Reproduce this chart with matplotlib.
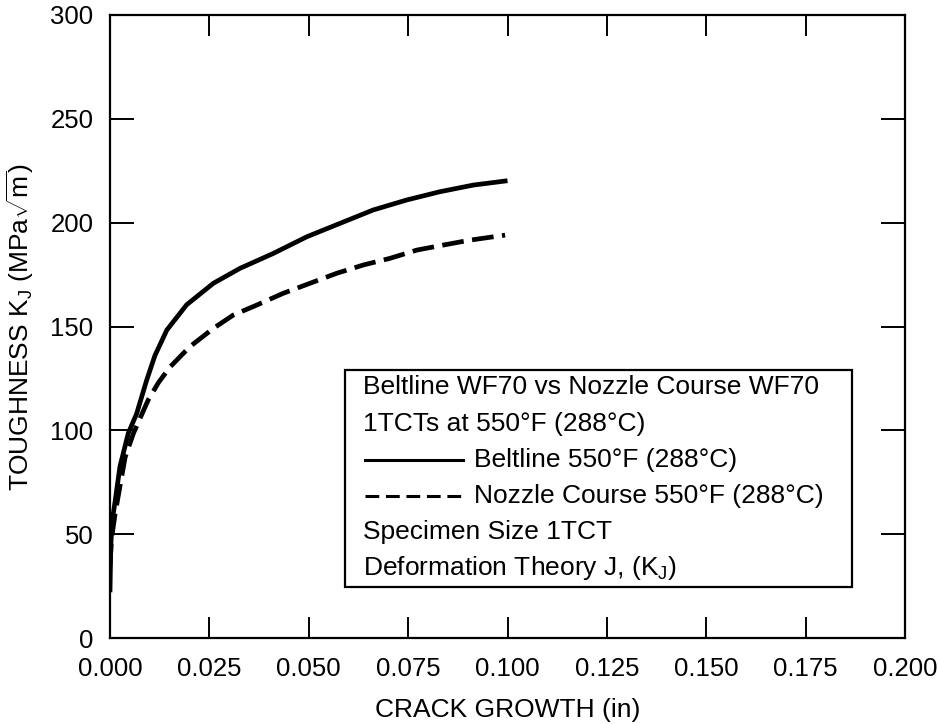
import matplotlib
matplotlib.use("Agg")
import matplotlib.pyplot as plt
from matplotlib.patches import Rectangle

plt.rcParams['font.family'] = ['Liberation Sans', 'DejaVu Sans']
plt.rcParams['mathtext.fontset'] = 'custom'
plt.rcParams['mathtext.rm'] = 'Liberation Sans'
plt.rcParams['mathtext.it'] = 'Liberation Sans:italic'
plt.rcParams['mathtext.bf'] = 'Liberation Sans:bold'

# Data
belt_x = [0.0, 0.0002, 0.0006, 0.0013, 0.0025, 0.0046, 0.0067, 0.0092, 0.0113,
          0.0143, 0.0193, 0.026, 0.0327, 0.0411, 0.0495, 0.0579, 0.0662,
          0.0746, 0.083, 0.0914, 0.1]
belt_y = [22, 45, 57, 66, 82.5, 98.6, 108, 124, 136,
          148.3, 160.5, 170.8, 178, 185.2, 193.2, 199.7, 206.1,
          210.9, 214.9, 218.1, 220.2]

nozzle_x = [0.0, 0.0004, 0.0013, 0.0038, 0.0059, 0.0096, 0.0122, 0.0151, 0.0201,
            0.026, 0.031, 0.0369, 0.0436, 0.0503, 0.057, 0.0637, 0.0704,
            0.0772, 0.0838, 0.0906, 0.0994]
nozzle_y = [35, 48, 60, 87, 98.6, 114.6, 123, 130.5, 140.3,
            149.1, 155.5, 160.3, 166, 170.8, 175.6, 179.6, 182.8,
            186.8, 189.2, 191.6, 194]

x_ticks = [0.0, 0.025, 0.05, 0.075, 0.1, 0.125, 0.15, 0.175, 0.2]
x_ticklabels = ['0.000', '0.025', '0.050', '0.075', '0.100', '0.125', '0.150', '0.175', '0.200']
y_ticks = [0, 50, 100, 150, 200, 250, 300]

legend_lines = ['Beltline WF70 vs Nozzle Course WF70',
                '1TCTs at 550°F (288°C)',
                'Beltline 550°F (288°C)',
                'Nozzle Course 550°F (288°C)',
                'Specimen Size 1TCT',
                r'Deformation Theory J, (K$_\mathregular{J}$)']

fig = plt.figure(figsize=(9.38, 7.24), dpi=100)
ax = fig.add_axes([110/938, 86/724, 795/938, 623/724])

lw = 3.4
ax.plot(belt_x, belt_y, color='black', lw=lw, solid_capstyle='butt',
        solid_joinstyle='round')
ax.plot(nozzle_x, nozzle_y, color='black', lw=lw, dashes=(4.6, 1.8),
        dash_joinstyle='round')

ax.set_xlim(0, 0.2)
ax.set_ylim(0, 300)
ax.set_xticks(x_ticks)
ax.set_xticklabels(x_ticklabels)
ax.set_yticks(y_ticks)

for s in ax.spines.values():
    s.set_linewidth(1.6)
ax.tick_params(axis='both', direction='in', top=True, right=True, width=1.4,
               labelsize=18.5)
ax.tick_params(axis='x', length=15, pad=14)
ax.tick_params(axis='y', length=17, pad=12)

ax.set_xlabel('CRACK GROWTH (in)', fontsize=19, labelpad=12)
ax.set_ylabel(r'TOUGHNESS K$_\mathregular{J}$ (MPa$\sqrt{\mathregular{m}}$)',
              fontsize=19, labelpad=10)

# legend box
bx0, bx1 = (345-110)/795, (852-110)/795
by0, by1 = (638-587)/623, (638-370)/623
ax.add_patch(Rectangle((bx0, by0), bx1-bx0, by1-by0, transform=ax.transAxes,
                       fill=False, lw=1.6, ec='black', zorder=5))
line_px = [387, 424, 460, 496, 532, 568]
tx = (363-110)/795
for i, (txt, py) in enumerate(zip(legend_lines, line_px)):
    yy = (638-py)/623
    if i in (2, 3):
        sx0, sx1 = (365-110)/795, (463-110)/795
        if i == 2:
            ax.plot([sx0, sx1], [yy, yy], transform=ax.transAxes, color='black', lw=2.2)
        else:
            ax.plot([sx0, sx1], [yy, yy], transform=ax.transAxes, color='black', lw=2.2,
                    dashes=(4.5, 2.2))
        ax.text((474-110)/795, yy, txt, transform=ax.transAxes, fontsize=19,
                va='center', ha='left')
    else:
        ax.text(tx, yy, txt, transform=ax.transAxes, fontsize=19,
                va='center', ha='left')

fig.savefig('out.png', dpi=100)
